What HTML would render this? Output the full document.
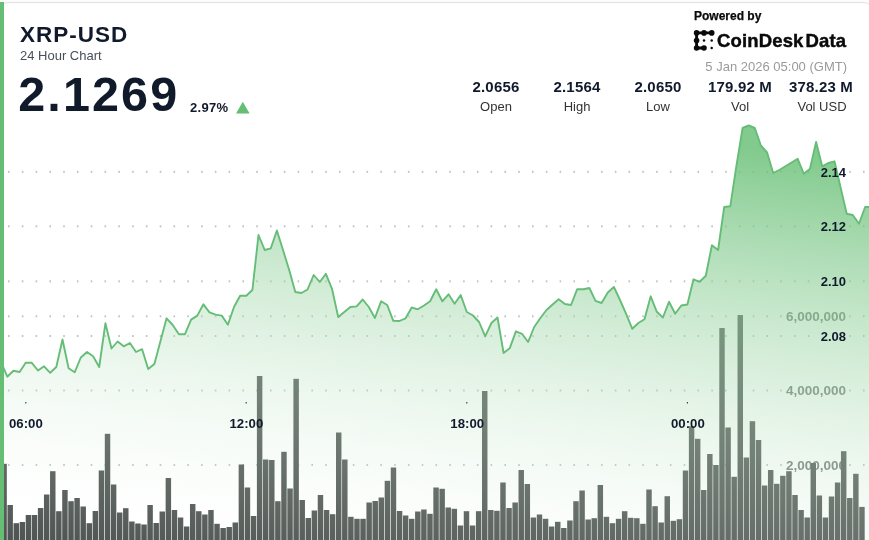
<!DOCTYPE html>
<html>
<head>
<meta charset="utf-8">
<title>XRP-USD 24 Hour Chart</title>
<style>
  html, body { margin:0; padding:0; background:#fcfcfc; }
  body { width:869px; height:540px; overflow:hidden; position:relative;
         font-family:"Liberation Sans", sans-serif; color:#111a2b; }
  .card { position:absolute; left:0; top:1.5px; width:872px; height:545px; box-sizing:border-box;
          background:#fff; border:1px solid #e1e1e1; border-radius:8px; overflow:hidden; }
  .accent { position:absolute; left:0; top:2px; width:4px; height:540px; background:#65be73; }
  svg.chart { position:absolute; left:0; top:0; filter:blur(0.6px); }
  .t { filter:blur(0.45px); }
  .t { position:absolute; white-space:nowrap; line-height:1; }
  .c { transform:translateX(-50%); text-align:center; }
  .r { transform:translateX(-100%); text-align:right; }
  .b { font-weight:bold; }
  .stat-v { font-size:15px; font-weight:bold; top:78.5px; letter-spacing:0.2px; }
  .stat-l { font-size:13px; top:99.8px; color:#333; }
  .ax { font-size:13px; font-weight:bold; }
  .vol { font-size:13px; font-weight:bold; color:rgba(70,95,80,0.55); }
</style>
</head>
<body>
<div class="card"></div>

<svg class="chart" width="877" height="548" viewBox="0 0 877 548">
  <defs>
    <linearGradient id="ag" gradientUnits="userSpaceOnUse" x1="61.65" y1="61.55" x2="0" y2="540">
      <stop offset="0" stop-color="#65be73" stop-opacity="0.81"/>
      <stop offset="1" stop-color="#ffffff" stop-opacity="0"/>
    </linearGradient>
    <clipPath id="cp"><rect x="3" y="0" width="874" height="548"/></clipPath>
  </defs>
  <g clip-path="url(#cp)">
    <g fill="#bfc3c0"><rect x="8.0" y="170.8" width="1.6" height="2"/><rect x="21.8" y="170.8" width="1.6" height="2"/><rect x="35.6" y="170.8" width="1.6" height="2"/><rect x="49.4" y="170.8" width="1.6" height="2"/><rect x="63.2" y="170.8" width="1.6" height="2"/><rect x="76.9" y="170.8" width="1.6" height="2"/><rect x="90.7" y="170.8" width="1.6" height="2"/><rect x="104.5" y="170.8" width="1.6" height="2"/><rect x="118.3" y="170.8" width="1.6" height="2"/><rect x="132.1" y="170.8" width="1.6" height="2"/><rect x="145.9" y="170.8" width="1.6" height="2"/><rect x="159.7" y="170.8" width="1.6" height="2"/><rect x="173.5" y="170.8" width="1.6" height="2"/><rect x="187.3" y="170.8" width="1.6" height="2"/><rect x="201.1" y="170.8" width="1.6" height="2"/><rect x="214.8" y="170.8" width="1.6" height="2"/><rect x="228.6" y="170.8" width="1.6" height="2"/><rect x="242.4" y="170.8" width="1.6" height="2"/><rect x="256.2" y="170.8" width="1.6" height="2"/><rect x="270.0" y="170.8" width="1.6" height="2"/><rect x="283.8" y="170.8" width="1.6" height="2"/><rect x="297.6" y="170.8" width="1.6" height="2"/><rect x="311.4" y="170.8" width="1.6" height="2"/><rect x="325.2" y="170.8" width="1.6" height="2"/><rect x="339.0" y="170.8" width="1.6" height="2"/><rect x="352.8" y="170.8" width="1.6" height="2"/><rect x="366.5" y="170.8" width="1.6" height="2"/><rect x="380.3" y="170.8" width="1.6" height="2"/><rect x="394.1" y="170.8" width="1.6" height="2"/><rect x="407.9" y="170.8" width="1.6" height="2"/><rect x="421.7" y="170.8" width="1.6" height="2"/><rect x="435.5" y="170.8" width="1.6" height="2"/><rect x="449.3" y="170.8" width="1.6" height="2"/><rect x="463.1" y="170.8" width="1.6" height="2"/><rect x="476.9" y="170.8" width="1.6" height="2"/><rect x="490.6" y="170.8" width="1.6" height="2"/><rect x="504.4" y="170.8" width="1.6" height="2"/><rect x="518.2" y="170.8" width="1.6" height="2"/><rect x="532.0" y="170.8" width="1.6" height="2"/><rect x="545.8" y="170.8" width="1.6" height="2"/><rect x="559.6" y="170.8" width="1.6" height="2"/><rect x="573.4" y="170.8" width="1.6" height="2"/><rect x="587.2" y="170.8" width="1.6" height="2"/><rect x="601.0" y="170.8" width="1.6" height="2"/><rect x="614.8" y="170.8" width="1.6" height="2"/><rect x="628.5" y="170.8" width="1.6" height="2"/><rect x="642.3" y="170.8" width="1.6" height="2"/><rect x="656.1" y="170.8" width="1.6" height="2"/><rect x="669.9" y="170.8" width="1.6" height="2"/><rect x="683.7" y="170.8" width="1.6" height="2"/><rect x="697.5" y="170.8" width="1.6" height="2"/><rect x="711.3" y="170.8" width="1.6" height="2"/><rect x="725.1" y="170.8" width="1.6" height="2"/><rect x="738.9" y="170.8" width="1.6" height="2"/><rect x="752.7" y="170.8" width="1.6" height="2"/><rect x="766.4" y="170.8" width="1.6" height="2"/><rect x="780.2" y="170.8" width="1.6" height="2"/><rect x="794.0" y="170.8" width="1.6" height="2"/><rect x="807.8" y="170.8" width="1.6" height="2"/><rect x="849.2" y="170.8" width="1.6" height="2"/><rect x="863.0" y="170.8" width="1.6" height="2"/><rect x="8.0" y="225.3" width="1.6" height="2"/><rect x="21.8" y="225.3" width="1.6" height="2"/><rect x="35.6" y="225.3" width="1.6" height="2"/><rect x="49.4" y="225.3" width="1.6" height="2"/><rect x="63.2" y="225.3" width="1.6" height="2"/><rect x="76.9" y="225.3" width="1.6" height="2"/><rect x="90.7" y="225.3" width="1.6" height="2"/><rect x="104.5" y="225.3" width="1.6" height="2"/><rect x="118.3" y="225.3" width="1.6" height="2"/><rect x="132.1" y="225.3" width="1.6" height="2"/><rect x="145.9" y="225.3" width="1.6" height="2"/><rect x="159.7" y="225.3" width="1.6" height="2"/><rect x="173.5" y="225.3" width="1.6" height="2"/><rect x="187.3" y="225.3" width="1.6" height="2"/><rect x="201.1" y="225.3" width="1.6" height="2"/><rect x="214.8" y="225.3" width="1.6" height="2"/><rect x="228.6" y="225.3" width="1.6" height="2"/><rect x="242.4" y="225.3" width="1.6" height="2"/><rect x="256.2" y="225.3" width="1.6" height="2"/><rect x="270.0" y="225.3" width="1.6" height="2"/><rect x="283.8" y="225.3" width="1.6" height="2"/><rect x="297.6" y="225.3" width="1.6" height="2"/><rect x="311.4" y="225.3" width="1.6" height="2"/><rect x="325.2" y="225.3" width="1.6" height="2"/><rect x="339.0" y="225.3" width="1.6" height="2"/><rect x="352.8" y="225.3" width="1.6" height="2"/><rect x="366.5" y="225.3" width="1.6" height="2"/><rect x="380.3" y="225.3" width="1.6" height="2"/><rect x="394.1" y="225.3" width="1.6" height="2"/><rect x="407.9" y="225.3" width="1.6" height="2"/><rect x="421.7" y="225.3" width="1.6" height="2"/><rect x="435.5" y="225.3" width="1.6" height="2"/><rect x="449.3" y="225.3" width="1.6" height="2"/><rect x="463.1" y="225.3" width="1.6" height="2"/><rect x="476.9" y="225.3" width="1.6" height="2"/><rect x="490.6" y="225.3" width="1.6" height="2"/><rect x="504.4" y="225.3" width="1.6" height="2"/><rect x="518.2" y="225.3" width="1.6" height="2"/><rect x="532.0" y="225.3" width="1.6" height="2"/><rect x="545.8" y="225.3" width="1.6" height="2"/><rect x="559.6" y="225.3" width="1.6" height="2"/><rect x="573.4" y="225.3" width="1.6" height="2"/><rect x="587.2" y="225.3" width="1.6" height="2"/><rect x="601.0" y="225.3" width="1.6" height="2"/><rect x="614.8" y="225.3" width="1.6" height="2"/><rect x="628.5" y="225.3" width="1.6" height="2"/><rect x="642.3" y="225.3" width="1.6" height="2"/><rect x="656.1" y="225.3" width="1.6" height="2"/><rect x="669.9" y="225.3" width="1.6" height="2"/><rect x="683.7" y="225.3" width="1.6" height="2"/><rect x="697.5" y="225.3" width="1.6" height="2"/><rect x="711.3" y="225.3" width="1.6" height="2"/><rect x="725.1" y="225.3" width="1.6" height="2"/><rect x="738.9" y="225.3" width="1.6" height="2"/><rect x="752.7" y="225.3" width="1.6" height="2"/><rect x="766.4" y="225.3" width="1.6" height="2"/><rect x="780.2" y="225.3" width="1.6" height="2"/><rect x="794.0" y="225.3" width="1.6" height="2"/><rect x="807.8" y="225.3" width="1.6" height="2"/><rect x="849.2" y="225.3" width="1.6" height="2"/><rect x="863.0" y="225.3" width="1.6" height="2"/><rect x="8.0" y="280.3" width="1.6" height="2"/><rect x="21.8" y="280.3" width="1.6" height="2"/><rect x="35.6" y="280.3" width="1.6" height="2"/><rect x="49.4" y="280.3" width="1.6" height="2"/><rect x="63.2" y="280.3" width="1.6" height="2"/><rect x="76.9" y="280.3" width="1.6" height="2"/><rect x="90.7" y="280.3" width="1.6" height="2"/><rect x="104.5" y="280.3" width="1.6" height="2"/><rect x="118.3" y="280.3" width="1.6" height="2"/><rect x="132.1" y="280.3" width="1.6" height="2"/><rect x="145.9" y="280.3" width="1.6" height="2"/><rect x="159.7" y="280.3" width="1.6" height="2"/><rect x="173.5" y="280.3" width="1.6" height="2"/><rect x="187.3" y="280.3" width="1.6" height="2"/><rect x="201.1" y="280.3" width="1.6" height="2"/><rect x="214.8" y="280.3" width="1.6" height="2"/><rect x="228.6" y="280.3" width="1.6" height="2"/><rect x="242.4" y="280.3" width="1.6" height="2"/><rect x="256.2" y="280.3" width="1.6" height="2"/><rect x="270.0" y="280.3" width="1.6" height="2"/><rect x="283.8" y="280.3" width="1.6" height="2"/><rect x="297.6" y="280.3" width="1.6" height="2"/><rect x="311.4" y="280.3" width="1.6" height="2"/><rect x="325.2" y="280.3" width="1.6" height="2"/><rect x="339.0" y="280.3" width="1.6" height="2"/><rect x="352.8" y="280.3" width="1.6" height="2"/><rect x="366.5" y="280.3" width="1.6" height="2"/><rect x="380.3" y="280.3" width="1.6" height="2"/><rect x="394.1" y="280.3" width="1.6" height="2"/><rect x="407.9" y="280.3" width="1.6" height="2"/><rect x="421.7" y="280.3" width="1.6" height="2"/><rect x="435.5" y="280.3" width="1.6" height="2"/><rect x="449.3" y="280.3" width="1.6" height="2"/><rect x="463.1" y="280.3" width="1.6" height="2"/><rect x="476.9" y="280.3" width="1.6" height="2"/><rect x="490.6" y="280.3" width="1.6" height="2"/><rect x="504.4" y="280.3" width="1.6" height="2"/><rect x="518.2" y="280.3" width="1.6" height="2"/><rect x="532.0" y="280.3" width="1.6" height="2"/><rect x="545.8" y="280.3" width="1.6" height="2"/><rect x="559.6" y="280.3" width="1.6" height="2"/><rect x="573.4" y="280.3" width="1.6" height="2"/><rect x="587.2" y="280.3" width="1.6" height="2"/><rect x="601.0" y="280.3" width="1.6" height="2"/><rect x="614.8" y="280.3" width="1.6" height="2"/><rect x="628.5" y="280.3" width="1.6" height="2"/><rect x="642.3" y="280.3" width="1.6" height="2"/><rect x="656.1" y="280.3" width="1.6" height="2"/><rect x="669.9" y="280.3" width="1.6" height="2"/><rect x="683.7" y="280.3" width="1.6" height="2"/><rect x="697.5" y="280.3" width="1.6" height="2"/><rect x="711.3" y="280.3" width="1.6" height="2"/><rect x="725.1" y="280.3" width="1.6" height="2"/><rect x="738.9" y="280.3" width="1.6" height="2"/><rect x="752.7" y="280.3" width="1.6" height="2"/><rect x="766.4" y="280.3" width="1.6" height="2"/><rect x="780.2" y="280.3" width="1.6" height="2"/><rect x="794.0" y="280.3" width="1.6" height="2"/><rect x="807.8" y="280.3" width="1.6" height="2"/><rect x="849.2" y="280.3" width="1.6" height="2"/><rect x="863.0" y="280.3" width="1.6" height="2"/><rect x="8.0" y="335.0" width="1.6" height="2"/><rect x="21.8" y="335.0" width="1.6" height="2"/><rect x="35.6" y="335.0" width="1.6" height="2"/><rect x="49.4" y="335.0" width="1.6" height="2"/><rect x="63.2" y="335.0" width="1.6" height="2"/><rect x="76.9" y="335.0" width="1.6" height="2"/><rect x="90.7" y="335.0" width="1.6" height="2"/><rect x="104.5" y="335.0" width="1.6" height="2"/><rect x="118.3" y="335.0" width="1.6" height="2"/><rect x="132.1" y="335.0" width="1.6" height="2"/><rect x="145.9" y="335.0" width="1.6" height="2"/><rect x="159.7" y="335.0" width="1.6" height="2"/><rect x="173.5" y="335.0" width="1.6" height="2"/><rect x="187.3" y="335.0" width="1.6" height="2"/><rect x="201.1" y="335.0" width="1.6" height="2"/><rect x="214.8" y="335.0" width="1.6" height="2"/><rect x="228.6" y="335.0" width="1.6" height="2"/><rect x="242.4" y="335.0" width="1.6" height="2"/><rect x="256.2" y="335.0" width="1.6" height="2"/><rect x="270.0" y="335.0" width="1.6" height="2"/><rect x="283.8" y="335.0" width="1.6" height="2"/><rect x="297.6" y="335.0" width="1.6" height="2"/><rect x="311.4" y="335.0" width="1.6" height="2"/><rect x="325.2" y="335.0" width="1.6" height="2"/><rect x="339.0" y="335.0" width="1.6" height="2"/><rect x="352.8" y="335.0" width="1.6" height="2"/><rect x="366.5" y="335.0" width="1.6" height="2"/><rect x="380.3" y="335.0" width="1.6" height="2"/><rect x="394.1" y="335.0" width="1.6" height="2"/><rect x="407.9" y="335.0" width="1.6" height="2"/><rect x="421.7" y="335.0" width="1.6" height="2"/><rect x="435.5" y="335.0" width="1.6" height="2"/><rect x="449.3" y="335.0" width="1.6" height="2"/><rect x="463.1" y="335.0" width="1.6" height="2"/><rect x="476.9" y="335.0" width="1.6" height="2"/><rect x="490.6" y="335.0" width="1.6" height="2"/><rect x="504.4" y="335.0" width="1.6" height="2"/><rect x="518.2" y="335.0" width="1.6" height="2"/><rect x="532.0" y="335.0" width="1.6" height="2"/><rect x="545.8" y="335.0" width="1.6" height="2"/><rect x="559.6" y="335.0" width="1.6" height="2"/><rect x="573.4" y="335.0" width="1.6" height="2"/><rect x="587.2" y="335.0" width="1.6" height="2"/><rect x="601.0" y="335.0" width="1.6" height="2"/><rect x="614.8" y="335.0" width="1.6" height="2"/><rect x="628.5" y="335.0" width="1.6" height="2"/><rect x="642.3" y="335.0" width="1.6" height="2"/><rect x="656.1" y="335.0" width="1.6" height="2"/><rect x="669.9" y="335.0" width="1.6" height="2"/><rect x="683.7" y="335.0" width="1.6" height="2"/><rect x="697.5" y="335.0" width="1.6" height="2"/><rect x="711.3" y="335.0" width="1.6" height="2"/><rect x="725.1" y="335.0" width="1.6" height="2"/><rect x="738.9" y="335.0" width="1.6" height="2"/><rect x="752.7" y="335.0" width="1.6" height="2"/><rect x="766.4" y="335.0" width="1.6" height="2"/><rect x="780.2" y="335.0" width="1.6" height="2"/><rect x="794.0" y="335.0" width="1.6" height="2"/><rect x="807.8" y="335.0" width="1.6" height="2"/><rect x="849.2" y="335.0" width="1.6" height="2"/><rect x="863.0" y="335.0" width="1.6" height="2"/><rect x="8.0" y="315.3" width="1.6" height="2"/><rect x="21.8" y="315.3" width="1.6" height="2"/><rect x="35.6" y="315.3" width="1.6" height="2"/><rect x="49.4" y="315.3" width="1.6" height="2"/><rect x="63.2" y="315.3" width="1.6" height="2"/><rect x="76.9" y="315.3" width="1.6" height="2"/><rect x="90.7" y="315.3" width="1.6" height="2"/><rect x="104.5" y="315.3" width="1.6" height="2"/><rect x="118.3" y="315.3" width="1.6" height="2"/><rect x="132.1" y="315.3" width="1.6" height="2"/><rect x="145.9" y="315.3" width="1.6" height="2"/><rect x="159.7" y="315.3" width="1.6" height="2"/><rect x="173.5" y="315.3" width="1.6" height="2"/><rect x="187.3" y="315.3" width="1.6" height="2"/><rect x="201.1" y="315.3" width="1.6" height="2"/><rect x="214.8" y="315.3" width="1.6" height="2"/><rect x="228.6" y="315.3" width="1.6" height="2"/><rect x="242.4" y="315.3" width="1.6" height="2"/><rect x="256.2" y="315.3" width="1.6" height="2"/><rect x="270.0" y="315.3" width="1.6" height="2"/><rect x="283.8" y="315.3" width="1.6" height="2"/><rect x="297.6" y="315.3" width="1.6" height="2"/><rect x="311.4" y="315.3" width="1.6" height="2"/><rect x="325.2" y="315.3" width="1.6" height="2"/><rect x="339.0" y="315.3" width="1.6" height="2"/><rect x="352.8" y="315.3" width="1.6" height="2"/><rect x="366.5" y="315.3" width="1.6" height="2"/><rect x="380.3" y="315.3" width="1.6" height="2"/><rect x="394.1" y="315.3" width="1.6" height="2"/><rect x="407.9" y="315.3" width="1.6" height="2"/><rect x="421.7" y="315.3" width="1.6" height="2"/><rect x="435.5" y="315.3" width="1.6" height="2"/><rect x="449.3" y="315.3" width="1.6" height="2"/><rect x="463.1" y="315.3" width="1.6" height="2"/><rect x="476.9" y="315.3" width="1.6" height="2"/><rect x="490.6" y="315.3" width="1.6" height="2"/><rect x="504.4" y="315.3" width="1.6" height="2"/><rect x="518.2" y="315.3" width="1.6" height="2"/><rect x="532.0" y="315.3" width="1.6" height="2"/><rect x="545.8" y="315.3" width="1.6" height="2"/><rect x="559.6" y="315.3" width="1.6" height="2"/><rect x="573.4" y="315.3" width="1.6" height="2"/><rect x="587.2" y="315.3" width="1.6" height="2"/><rect x="601.0" y="315.3" width="1.6" height="2"/><rect x="614.8" y="315.3" width="1.6" height="2"/><rect x="628.5" y="315.3" width="1.6" height="2"/><rect x="642.3" y="315.3" width="1.6" height="2"/><rect x="656.1" y="315.3" width="1.6" height="2"/><rect x="669.9" y="315.3" width="1.6" height="2"/><rect x="683.7" y="315.3" width="1.6" height="2"/><rect x="697.5" y="315.3" width="1.6" height="2"/><rect x="711.3" y="315.3" width="1.6" height="2"/><rect x="725.1" y="315.3" width="1.6" height="2"/><rect x="738.9" y="315.3" width="1.6" height="2"/><rect x="752.7" y="315.3" width="1.6" height="2"/><rect x="766.4" y="315.3" width="1.6" height="2"/><rect x="780.2" y="315.3" width="1.6" height="2"/><rect x="849.2" y="315.3" width="1.6" height="2"/><rect x="863.0" y="315.3" width="1.6" height="2"/><rect x="8.0" y="389.5" width="1.6" height="2"/><rect x="21.8" y="389.5" width="1.6" height="2"/><rect x="35.6" y="389.5" width="1.6" height="2"/><rect x="49.4" y="389.5" width="1.6" height="2"/><rect x="63.2" y="389.5" width="1.6" height="2"/><rect x="76.9" y="389.5" width="1.6" height="2"/><rect x="90.7" y="389.5" width="1.6" height="2"/><rect x="104.5" y="389.5" width="1.6" height="2"/><rect x="118.3" y="389.5" width="1.6" height="2"/><rect x="132.1" y="389.5" width="1.6" height="2"/><rect x="145.9" y="389.5" width="1.6" height="2"/><rect x="159.7" y="389.5" width="1.6" height="2"/><rect x="173.5" y="389.5" width="1.6" height="2"/><rect x="187.3" y="389.5" width="1.6" height="2"/><rect x="201.1" y="389.5" width="1.6" height="2"/><rect x="214.8" y="389.5" width="1.6" height="2"/><rect x="228.6" y="389.5" width="1.6" height="2"/><rect x="242.4" y="389.5" width="1.6" height="2"/><rect x="256.2" y="389.5" width="1.6" height="2"/><rect x="270.0" y="389.5" width="1.6" height="2"/><rect x="283.8" y="389.5" width="1.6" height="2"/><rect x="297.6" y="389.5" width="1.6" height="2"/><rect x="311.4" y="389.5" width="1.6" height="2"/><rect x="325.2" y="389.5" width="1.6" height="2"/><rect x="339.0" y="389.5" width="1.6" height="2"/><rect x="352.8" y="389.5" width="1.6" height="2"/><rect x="366.5" y="389.5" width="1.6" height="2"/><rect x="380.3" y="389.5" width="1.6" height="2"/><rect x="394.1" y="389.5" width="1.6" height="2"/><rect x="407.9" y="389.5" width="1.6" height="2"/><rect x="421.7" y="389.5" width="1.6" height="2"/><rect x="435.5" y="389.5" width="1.6" height="2"/><rect x="449.3" y="389.5" width="1.6" height="2"/><rect x="463.1" y="389.5" width="1.6" height="2"/><rect x="476.9" y="389.5" width="1.6" height="2"/><rect x="490.6" y="389.5" width="1.6" height="2"/><rect x="504.4" y="389.5" width="1.6" height="2"/><rect x="518.2" y="389.5" width="1.6" height="2"/><rect x="532.0" y="389.5" width="1.6" height="2"/><rect x="545.8" y="389.5" width="1.6" height="2"/><rect x="559.6" y="389.5" width="1.6" height="2"/><rect x="573.4" y="389.5" width="1.6" height="2"/><rect x="587.2" y="389.5" width="1.6" height="2"/><rect x="601.0" y="389.5" width="1.6" height="2"/><rect x="614.8" y="389.5" width="1.6" height="2"/><rect x="628.5" y="389.5" width="1.6" height="2"/><rect x="642.3" y="389.5" width="1.6" height="2"/><rect x="656.1" y="389.5" width="1.6" height="2"/><rect x="669.9" y="389.5" width="1.6" height="2"/><rect x="683.7" y="389.5" width="1.6" height="2"/><rect x="697.5" y="389.5" width="1.6" height="2"/><rect x="711.3" y="389.5" width="1.6" height="2"/><rect x="725.1" y="389.5" width="1.6" height="2"/><rect x="738.9" y="389.5" width="1.6" height="2"/><rect x="752.7" y="389.5" width="1.6" height="2"/><rect x="766.4" y="389.5" width="1.6" height="2"/><rect x="780.2" y="389.5" width="1.6" height="2"/><rect x="849.2" y="389.5" width="1.6" height="2"/><rect x="863.0" y="389.5" width="1.6" height="2"/><rect x="8.0" y="464.0" width="1.6" height="2"/><rect x="21.8" y="464.0" width="1.6" height="2"/><rect x="35.6" y="464.0" width="1.6" height="2"/><rect x="49.4" y="464.0" width="1.6" height="2"/><rect x="63.2" y="464.0" width="1.6" height="2"/><rect x="76.9" y="464.0" width="1.6" height="2"/><rect x="90.7" y="464.0" width="1.6" height="2"/><rect x="104.5" y="464.0" width="1.6" height="2"/><rect x="118.3" y="464.0" width="1.6" height="2"/><rect x="132.1" y="464.0" width="1.6" height="2"/><rect x="145.9" y="464.0" width="1.6" height="2"/><rect x="159.7" y="464.0" width="1.6" height="2"/><rect x="173.5" y="464.0" width="1.6" height="2"/><rect x="187.3" y="464.0" width="1.6" height="2"/><rect x="201.1" y="464.0" width="1.6" height="2"/><rect x="214.8" y="464.0" width="1.6" height="2"/><rect x="228.6" y="464.0" width="1.6" height="2"/><rect x="242.4" y="464.0" width="1.6" height="2"/><rect x="256.2" y="464.0" width="1.6" height="2"/><rect x="270.0" y="464.0" width="1.6" height="2"/><rect x="283.8" y="464.0" width="1.6" height="2"/><rect x="297.6" y="464.0" width="1.6" height="2"/><rect x="311.4" y="464.0" width="1.6" height="2"/><rect x="325.2" y="464.0" width="1.6" height="2"/><rect x="339.0" y="464.0" width="1.6" height="2"/><rect x="352.8" y="464.0" width="1.6" height="2"/><rect x="366.5" y="464.0" width="1.6" height="2"/><rect x="380.3" y="464.0" width="1.6" height="2"/><rect x="394.1" y="464.0" width="1.6" height="2"/><rect x="407.9" y="464.0" width="1.6" height="2"/><rect x="421.7" y="464.0" width="1.6" height="2"/><rect x="435.5" y="464.0" width="1.6" height="2"/><rect x="449.3" y="464.0" width="1.6" height="2"/><rect x="463.1" y="464.0" width="1.6" height="2"/><rect x="476.9" y="464.0" width="1.6" height="2"/><rect x="490.6" y="464.0" width="1.6" height="2"/><rect x="504.4" y="464.0" width="1.6" height="2"/><rect x="518.2" y="464.0" width="1.6" height="2"/><rect x="532.0" y="464.0" width="1.6" height="2"/><rect x="545.8" y="464.0" width="1.6" height="2"/><rect x="559.6" y="464.0" width="1.6" height="2"/><rect x="573.4" y="464.0" width="1.6" height="2"/><rect x="587.2" y="464.0" width="1.6" height="2"/><rect x="601.0" y="464.0" width="1.6" height="2"/><rect x="614.8" y="464.0" width="1.6" height="2"/><rect x="628.5" y="464.0" width="1.6" height="2"/><rect x="642.3" y="464.0" width="1.6" height="2"/><rect x="656.1" y="464.0" width="1.6" height="2"/><rect x="669.9" y="464.0" width="1.6" height="2"/><rect x="683.7" y="464.0" width="1.6" height="2"/><rect x="697.5" y="464.0" width="1.6" height="2"/><rect x="711.3" y="464.0" width="1.6" height="2"/><rect x="725.1" y="464.0" width="1.6" height="2"/><rect x="738.9" y="464.0" width="1.6" height="2"/><rect x="752.7" y="464.0" width="1.6" height="2"/><rect x="766.4" y="464.0" width="1.6" height="2"/><rect x="780.2" y="464.0" width="1.6" height="2"/><rect x="849.2" y="464.0" width="1.6" height="2"/><rect x="863.0" y="464.0" width="1.6" height="2"/></g>
    <g font-family="Liberation Sans, sans-serif" font-size="13.5" font-weight="bold" fill="#737876" text-anchor="end">
      <text x="846" y="321.1">6,000,000</text>
      <text x="846" y="395.3">4,000,000</text>
      <text x="846" y="469.8">2,000,000</text>
    </g>
    <g fill="#4e5451">
<rect x="1.37" y="463.8" width="5.45" height="84.2"/>
<rect x="7.46" y="505.0" width="5.45" height="43.0"/>
<rect x="13.54" y="523.2" width="5.45" height="24.8"/>
<rect x="19.63" y="522.0" width="5.45" height="26.0"/>
<rect x="25.71" y="515.0" width="5.45" height="33.0"/>
<rect x="31.79" y="515.0" width="5.45" height="33.0"/>
<rect x="37.88" y="508.0" width="5.45" height="40.0"/>
<rect x="43.96" y="494.5" width="5.45" height="53.5"/>
<rect x="50.05" y="471.2" width="5.45" height="76.8"/>
<rect x="56.13" y="511.2" width="5.45" height="36.8"/>
<rect x="62.21" y="490.0" width="5.45" height="58.0"/>
<rect x="68.30" y="501.2" width="5.45" height="46.8"/>
<rect x="74.38" y="498.0" width="5.45" height="50.0"/>
<rect x="80.47" y="506.5" width="5.45" height="41.5"/>
<rect x="86.55" y="523.2" width="5.45" height="24.8"/>
<rect x="92.63" y="511.0" width="5.45" height="37.0"/>
<rect x="98.72" y="470.5" width="5.45" height="77.5"/>
<rect x="104.80" y="433.8" width="5.45" height="114.2"/>
<rect x="110.89" y="484.5" width="5.45" height="63.5"/>
<rect x="116.97" y="512.5" width="5.45" height="35.5"/>
<rect x="123.05" y="508.2" width="5.45" height="39.8"/>
<rect x="129.14" y="521.5" width="5.45" height="26.5"/>
<rect x="135.22" y="523.5" width="5.45" height="24.5"/>
<rect x="141.31" y="524.5" width="5.45" height="23.5"/>
<rect x="147.39" y="505.0" width="5.45" height="43.0"/>
<rect x="153.47" y="523.0" width="5.45" height="25.0"/>
<rect x="159.56" y="511.5" width="5.45" height="36.5"/>
<rect x="165.64" y="478.0" width="5.45" height="70.0"/>
<rect x="171.73" y="510.0" width="5.45" height="38.0"/>
<rect x="177.81" y="517.5" width="5.45" height="30.5"/>
<rect x="183.89" y="526.5" width="5.45" height="21.5"/>
<rect x="189.98" y="504.0" width="5.45" height="44.0"/>
<rect x="196.06" y="511.2" width="5.45" height="36.8"/>
<rect x="202.15" y="514.5" width="5.45" height="33.5"/>
<rect x="208.23" y="510.0" width="5.45" height="38.0"/>
<rect x="214.31" y="523.8" width="5.45" height="24.2"/>
<rect x="220.40" y="528.0" width="5.45" height="20.0"/>
<rect x="226.48" y="527.0" width="5.45" height="21.0"/>
<rect x="232.57" y="522.5" width="5.45" height="25.5"/>
<rect x="238.65" y="464.5" width="5.45" height="83.5"/>
<rect x="244.73" y="487.5" width="5.45" height="60.5"/>
<rect x="250.82" y="516.0" width="5.45" height="32.0"/>
<rect x="256.90" y="376.0" width="5.45" height="172.0"/>
<rect x="262.99" y="459.5" width="5.45" height="88.5"/>
<rect x="269.07" y="460.0" width="5.45" height="88.0"/>
<rect x="275.15" y="501.2" width="5.45" height="46.8"/>
<rect x="281.24" y="451.8" width="5.45" height="96.2"/>
<rect x="287.32" y="488.5" width="5.45" height="59.5"/>
<rect x="293.41" y="378.8" width="5.45" height="169.2"/>
<rect x="299.49" y="500.0" width="5.45" height="48.0"/>
<rect x="305.57" y="518.0" width="5.45" height="30.0"/>
<rect x="311.66" y="510.5" width="5.45" height="37.5"/>
<rect x="317.74" y="495.0" width="5.45" height="53.0"/>
<rect x="323.83" y="510.0" width="5.45" height="38.0"/>
<rect x="329.91" y="514.2" width="5.45" height="33.8"/>
<rect x="336.00" y="432.5" width="5.45" height="115.5"/>
<rect x="342.08" y="459.5" width="5.45" height="88.5"/>
<rect x="348.16" y="516.8" width="5.45" height="31.2"/>
<rect x="354.25" y="518.8" width="5.45" height="29.2"/>
<rect x="360.33" y="518.8" width="5.45" height="29.2"/>
<rect x="366.41" y="502.5" width="5.45" height="45.5"/>
<rect x="372.50" y="501.0" width="5.45" height="47.0"/>
<rect x="378.58" y="497.5" width="5.45" height="50.5"/>
<rect x="384.67" y="480.8" width="5.45" height="67.2"/>
<rect x="390.75" y="467.5" width="5.45" height="80.5"/>
<rect x="396.83" y="511.0" width="5.45" height="37.0"/>
<rect x="402.92" y="515.5" width="5.45" height="32.5"/>
<rect x="409.00" y="518.8" width="5.45" height="29.2"/>
<rect x="415.09" y="511.5" width="5.45" height="36.5"/>
<rect x="421.17" y="509.5" width="5.45" height="38.5"/>
<rect x="427.25" y="513.8" width="5.45" height="34.2"/>
<rect x="433.34" y="487.5" width="5.45" height="60.5"/>
<rect x="439.42" y="488.8" width="5.45" height="59.2"/>
<rect x="445.51" y="507.5" width="5.45" height="40.5"/>
<rect x="451.59" y="508.8" width="5.45" height="39.2"/>
<rect x="457.67" y="525.5" width="5.45" height="22.5"/>
<rect x="463.76" y="511.2" width="5.45" height="36.8"/>
<rect x="469.84" y="525.5" width="5.45" height="22.5"/>
<rect x="475.93" y="511.2" width="5.45" height="36.8"/>
<rect x="482.01" y="391.0" width="5.45" height="157.0"/>
<rect x="488.09" y="510.0" width="5.45" height="38.0"/>
<rect x="494.18" y="510.8" width="5.45" height="37.2"/>
<rect x="500.26" y="482.5" width="5.45" height="65.5"/>
<rect x="506.35" y="508.0" width="5.45" height="40.0"/>
<rect x="512.43" y="502.5" width="5.45" height="45.5"/>
<rect x="518.51" y="470.0" width="5.45" height="78.0"/>
<rect x="524.60" y="484.0" width="5.45" height="64.0"/>
<rect x="530.68" y="517.5" width="5.45" height="30.5"/>
<rect x="536.77" y="514.5" width="5.45" height="33.5"/>
<rect x="542.85" y="518.8" width="5.45" height="29.2"/>
<rect x="548.93" y="526.5" width="5.45" height="21.5"/>
<rect x="555.02" y="521.8" width="5.45" height="26.2"/>
<rect x="561.10" y="528.0" width="5.45" height="20.0"/>
<rect x="567.19" y="520.5" width="5.45" height="27.5"/>
<rect x="573.27" y="501.2" width="5.45" height="46.8"/>
<rect x="579.36" y="490.5" width="5.45" height="57.5"/>
<rect x="585.44" y="519.5" width="5.45" height="28.5"/>
<rect x="591.52" y="518.2" width="5.45" height="29.8"/>
<rect x="597.61" y="485.0" width="5.45" height="63.0"/>
<rect x="603.69" y="516.8" width="5.45" height="31.2"/>
<rect x="609.77" y="523.2" width="5.45" height="24.8"/>
<rect x="615.86" y="518.8" width="5.45" height="29.2"/>
<rect x="621.94" y="511.2" width="5.45" height="36.8"/>
<rect x="628.03" y="517.8" width="5.45" height="30.2"/>
<rect x="634.11" y="518.2" width="5.45" height="29.8"/>
<rect x="640.19" y="523.8" width="5.45" height="24.2"/>
<rect x="646.28" y="489.5" width="5.45" height="58.5"/>
<rect x="652.36" y="506.2" width="5.45" height="41.8"/>
<rect x="658.45" y="522.5" width="5.45" height="25.5"/>
<rect x="664.53" y="496.2" width="5.45" height="51.8"/>
<rect x="670.62" y="520.8" width="5.45" height="27.2"/>
<rect x="676.70" y="519.2" width="5.45" height="28.8"/>
<rect x="682.78" y="470.5" width="5.45" height="77.5"/>
<rect x="688.87" y="426.2" width="5.45" height="121.8"/>
<rect x="694.95" y="438.8" width="5.45" height="109.2"/>
<rect x="701.03" y="490.0" width="5.45" height="58.0"/>
<rect x="707.12" y="454.0" width="5.45" height="94.0"/>
<rect x="713.20" y="465.0" width="5.45" height="83.0"/>
<rect x="719.29" y="328.0" width="5.45" height="220.0"/>
<rect x="725.37" y="427.5" width="5.45" height="120.5"/>
<rect x="731.45" y="476.8" width="5.45" height="71.2"/>
<rect x="737.54" y="315.0" width="5.45" height="233.0"/>
<rect x="743.62" y="457.5" width="5.45" height="90.5"/>
<rect x="749.71" y="421.2" width="5.45" height="126.8"/>
<rect x="755.79" y="440.0" width="5.45" height="108.0"/>
<rect x="761.88" y="485.5" width="5.45" height="62.5"/>
<rect x="767.96" y="470.0" width="5.45" height="78.0"/>
<rect x="774.04" y="483.8" width="5.45" height="64.2"/>
<rect x="780.13" y="475.8" width="5.45" height="72.2"/>
<rect x="786.21" y="471.2" width="5.45" height="76.8"/>
<rect x="792.29" y="495.0" width="5.45" height="53.0"/>
<rect x="798.38" y="510.0" width="5.45" height="38.0"/>
<rect x="804.46" y="517.5" width="5.45" height="30.5"/>
<rect x="810.55" y="463.0" width="5.45" height="85.0"/>
<rect x="816.63" y="495.5" width="5.45" height="52.5"/>
<rect x="822.71" y="517.5" width="5.45" height="30.5"/>
<rect x="828.80" y="496.5" width="5.45" height="51.5"/>
<rect x="834.88" y="482.5" width="5.45" height="65.5"/>
<rect x="840.97" y="451.2" width="5.45" height="96.8"/>
<rect x="847.05" y="498.0" width="5.45" height="50.0"/>
<rect x="853.13" y="473.8" width="5.45" height="74.2"/>
<rect x="859.22" y="506.9" width="5.45" height="41.1"/>
    </g>
    <path d="M1.2,362.5 L7.3,376.7 L13.4,370.8 L19.6,372.0 L25.7,362.8 L31.8,362.8 L38.0,370.5 L44.1,366.3 L50.2,372.8 L56.3,367.0 L62.5,339.5 L68.6,368.3 L74.7,372.3 L80.8,357.5 L87.0,352.0 L93.1,356.2 L99.2,367.0 L105.4,323.3 L111.5,348.5 L117.6,341.5 L123.7,346.3 L129.9,343.0 L136.0,352.0 L142.1,349.2 L148.2,369.0 L154.4,364.0 L160.5,341.0 L166.6,318.3 L172.7,325.0 L178.9,334.2 L185.0,334.2 L191.1,319.6 L197.3,315.6 L203.4,304.3 L209.5,312.3 L215.6,314.6 L221.8,315.6 L227.9,324.7 L234.0,307.0 L240.1,295.8 L246.3,295.8 L252.4,290.0 L258.5,235.0 L264.7,250.0 L270.8,248.3 L276.9,230.5 L283.0,250.0 L289.2,270.0 L295.3,292.0 L301.4,293.0 L307.5,289.5 L313.7,275.0 L319.8,282.0 L325.9,273.8 L332.0,288.8 L338.2,317.0 L344.3,312.0 L350.4,307.0 L356.6,306.4 L362.7,299.5 L368.8,307.0 L374.9,318.0 L381.1,301.3 L387.2,305.0 L393.3,320.8 L399.4,321.0 L405.6,318.3 L411.7,307.5 L417.8,309.3 L424.0,305.5 L430.1,301.3 L436.2,289.3 L442.3,301.3 L448.5,294.3 L454.6,303.8 L460.7,295.0 L466.8,312.0 L473.0,315.5 L479.1,322.0 L485.2,336.3 L491.4,323.0 L497.5,317.5 L503.6,353.0 L509.7,348.3 L515.9,331.3 L522.0,333.8 L528.1,342.0 L534.2,327.0 L540.4,318.0 L546.5,310.0 L552.6,304.5 L558.7,299.2 L564.9,304.0 L571.0,305.0 L577.1,289.3 L583.3,289.3 L589.4,288.0 L595.5,300.8 L601.6,303.0 L607.8,292.5 L613.9,287.0 L620.0,300.0 L626.1,313.8 L632.3,328.8 L638.4,323.0 L644.5,319.3 L650.7,296.3 L656.8,311.8 L662.9,317.5 L669.0,301.8 L675.2,313.8 L681.3,305.5 L687.4,304.5 L693.5,279.3 L699.7,281.8 L705.8,275.8 L711.9,245.3 L718.1,250.0 L724.2,207.0 L730.3,206.3 L736.4,166.0 L742.6,128.0 L748.7,125.5 L754.8,128.0 L760.9,145.5 L767.1,152.5 L773.2,173.0 L779.3,170.0 L785.4,166.3 L791.6,162.5 L797.7,158.8 L803.8,173.8 L810.0,168.8 L816.1,142.0 L822.2,166.3 L828.3,163.0 L834.5,161.3 L840.6,187.5 L846.7,213.8 L852.8,215.0 L859.0,223.8 L865.1,207.0 L871.2,207.0 L878.0,207.0 L878.0,548 L1.2,548 Z" fill="url(#ag)"/>
    <path d="M1.2,362.5 L7.3,376.7 L13.4,370.8 L19.6,372.0 L25.7,362.8 L31.8,362.8 L38.0,370.5 L44.1,366.3 L50.2,372.8 L56.3,367.0 L62.5,339.5 L68.6,368.3 L74.7,372.3 L80.8,357.5 L87.0,352.0 L93.1,356.2 L99.2,367.0 L105.4,323.3 L111.5,348.5 L117.6,341.5 L123.7,346.3 L129.9,343.0 L136.0,352.0 L142.1,349.2 L148.2,369.0 L154.4,364.0 L160.5,341.0 L166.6,318.3 L172.7,325.0 L178.9,334.2 L185.0,334.2 L191.1,319.6 L197.3,315.6 L203.4,304.3 L209.5,312.3 L215.6,314.6 L221.8,315.6 L227.9,324.7 L234.0,307.0 L240.1,295.8 L246.3,295.8 L252.4,290.0 L258.5,235.0 L264.7,250.0 L270.8,248.3 L276.9,230.5 L283.0,250.0 L289.2,270.0 L295.3,292.0 L301.4,293.0 L307.5,289.5 L313.7,275.0 L319.8,282.0 L325.9,273.8 L332.0,288.8 L338.2,317.0 L344.3,312.0 L350.4,307.0 L356.6,306.4 L362.7,299.5 L368.8,307.0 L374.9,318.0 L381.1,301.3 L387.2,305.0 L393.3,320.8 L399.4,321.0 L405.6,318.3 L411.7,307.5 L417.8,309.3 L424.0,305.5 L430.1,301.3 L436.2,289.3 L442.3,301.3 L448.5,294.3 L454.6,303.8 L460.7,295.0 L466.8,312.0 L473.0,315.5 L479.1,322.0 L485.2,336.3 L491.4,323.0 L497.5,317.5 L503.6,353.0 L509.7,348.3 L515.9,331.3 L522.0,333.8 L528.1,342.0 L534.2,327.0 L540.4,318.0 L546.5,310.0 L552.6,304.5 L558.7,299.2 L564.9,304.0 L571.0,305.0 L577.1,289.3 L583.3,289.3 L589.4,288.0 L595.5,300.8 L601.6,303.0 L607.8,292.5 L613.9,287.0 L620.0,300.0 L626.1,313.8 L632.3,328.8 L638.4,323.0 L644.5,319.3 L650.7,296.3 L656.8,311.8 L662.9,317.5 L669.0,301.8 L675.2,313.8 L681.3,305.5 L687.4,304.5 L693.5,279.3 L699.7,281.8 L705.8,275.8 L711.9,245.3 L718.1,250.0 L724.2,207.0 L730.3,206.3 L736.4,166.0 L742.6,128.0 L748.7,125.5 L754.8,128.0 L760.9,145.5 L767.1,152.5 L773.2,173.0 L779.3,170.0 L785.4,166.3 L791.6,162.5 L797.7,158.8 L803.8,173.8 L810.0,168.8 L816.1,142.0 L822.2,166.3 L828.3,163.0 L834.5,161.3 L840.6,187.5 L846.7,213.8 L852.8,215.0 L859.0,223.8 L865.1,207.0 L871.2,207.0 L878.0,207.0" fill="none" stroke="#66bd77" stroke-width="1.9" stroke-linejoin="round" stroke-linecap="round"/>
    <g fill="#111a2b">
      <rect x="25.2" y="402.2" width="1.2" height="1.2"/>
      <rect x="245.6" y="402.2" width="1.2" height="1.2"/>
      <rect x="466.2" y="402.2" width="1.2" height="1.2"/>
      <rect x="686.8" y="402.2" width="1.2" height="1.2"/>
    </g>
  </g>
  <!-- CoinDesk icon -->
  <g fill="#0a0a0a" stroke="#0a0a0a">
    <path d="M711.7,32.9 L696.6,32.9 L696.6,48 L704,48" fill="none" stroke-width="2.9" stroke-linecap="round" stroke-linejoin="round"/>
    <g stroke="none">
      <circle cx="696.6" cy="32.9" r="2.8"/><circle cx="704" cy="32.9" r="2.8"/><circle cx="711.7" cy="32.9" r="2.8"/>
      <circle cx="696.6" cy="40.6" r="2.8"/><circle cx="696.6" cy="48" r="2.8"/><circle cx="704" cy="48" r="2.8"/>
      <circle cx="704" cy="40.6" r="1.25"/><circle cx="711.7" cy="40.6" r="1.25"/><circle cx="711.7" cy="48" r="1.25"/>
    </g>
  </g>
  <!-- up triangle -->
  <path d="M242.8,101.8 L249.6,113.4 L236,113.4 Z" fill="#65be73"/>
</svg>
<div class="accent"></div>

<!-- header left -->
<div class="t b" id="sym"   style="left:20px; top:24.3px; font-size:22.5px; letter-spacing:1px;">XRP-USD</div>
<div class="t"   id="sub"   style="left:20px; top:49px; font-size:13px; color:#4a4f57;">24 Hour Chart</div>
<div class="t b" id="price" style="left:18.3px; top:69.5px; font-size:48.5px; letter-spacing:2.1px;">2.1269</div>
<div class="t b" id="chg"   style="left:190px; top:101px; font-size:13px; letter-spacing:0.3px;">2.97%</div>

<!-- header right -->
<div class="t b" id="pow"  style="left:694px; top:10px; font-size:12px; color:#0a0a0a; -webkit-text-stroke:0.25px #0a0a0a;">Powered by</div>
<div class="t b" id="cdd"  style="left:717px; top:31.5px; font-size:18.5px; color:#0a0a0a; letter-spacing:0.15px; -webkit-text-stroke:0.45px #0a0a0a;">CoinDesk<span style="margin-left:2px">Data</span></div>
<div class="t r" id="date" style="left:847px; top:60px; font-size:13px; color:#9a9a9a;">5 Jan 2026 05:00 (GMT)</div>

<div class="t c stat-v" style="left:496px;">2.0656</div>
<div class="t c stat-l" style="left:496px;">Open</div>
<div class="t c stat-v" style="left:577px;">2.1564</div>
<div class="t c stat-l" style="left:577px;">High</div>
<div class="t c stat-v" style="left:658px;">2.0650</div>
<div class="t c stat-l" style="left:658px;">Low</div>
<div class="t c stat-v" style="left:740px;">179.92 M</div>
<div class="t c stat-l" style="left:740px;">Vol</div>
<div class="t c stat-v" style="left:821px;">378.23 M</div>
<div class="t c stat-l" style="left:822px;">Vol USD</div>

<!-- axis labels -->
<div class="t r ax" style="left:846px; top:165.5px;">2.14</div>
<div class="t r ax" style="left:846px; top:220px;">2.12</div>
<div class="t r ax" style="left:846px; top:275px;">2.10</div>
<div class="t r ax" style="left:846px; top:329.5px;">2.08</div>

<div class="t c ax" style="left:25.9px; top:416.9px; font-size:13.2px;">06:00</div>
<div class="t c ax" style="left:246.4px; top:416.9px; font-size:13.2px;">12:00</div>
<div class="t c ax" style="left:467.2px; top:416.9px; font-size:13.2px;">18:00</div>
<div class="t c ax" style="left:687.9px; top:416.9px; font-size:13.2px;">00:00</div>
</body>
</html>
